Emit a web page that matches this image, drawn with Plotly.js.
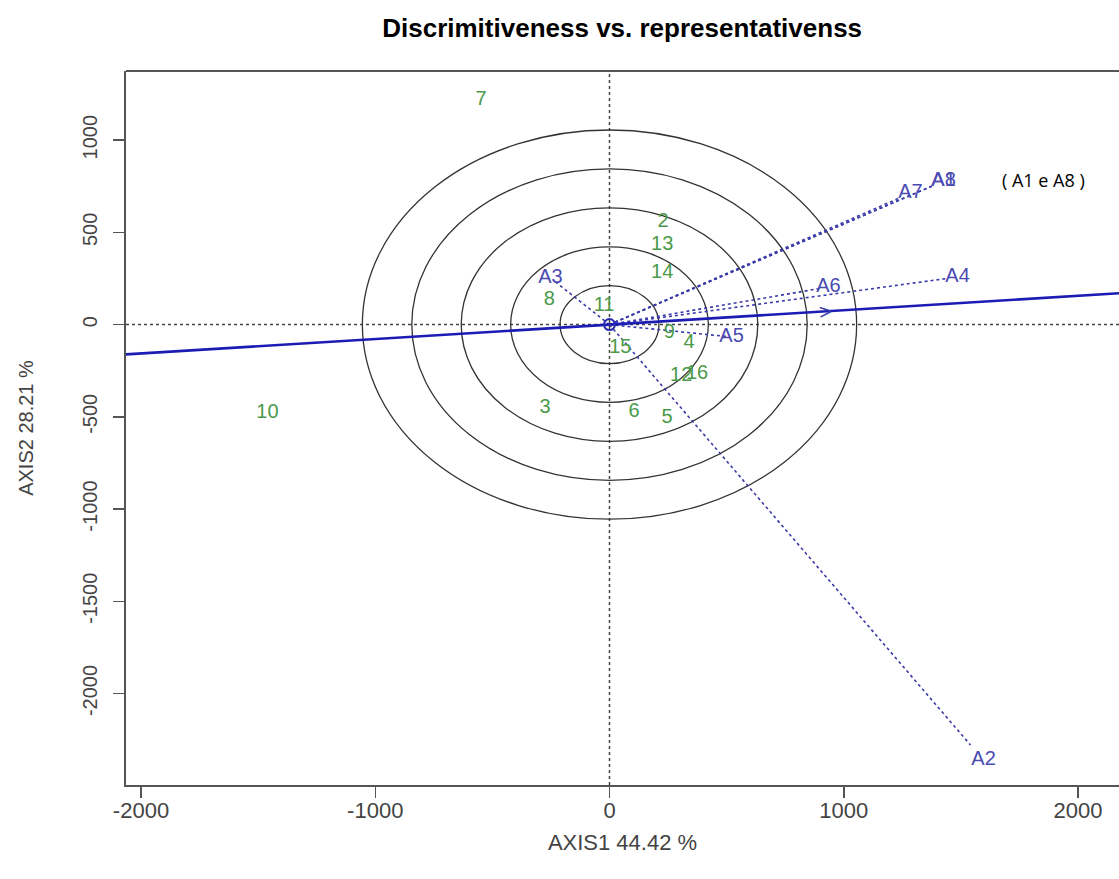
<!DOCTYPE html>
<html>
<head>
<meta charset="utf-8">
<script src="https://cdn.plot.ly/plotly-3.0.1.min.js"></script>
<style>html,body{margin:0;padding:0;background:#fff;}#chart{width:1119px;height:879px;}</style>
</head>
<body>
<div id="chart"></div>
<script>
// Genotype scores (labels, AXIS1, AXIS2)
const genoLabels = ["7","2","13","14","8","11","9","4","15","12","16","3","6","5","10"];
const genoX = [-548, 229, 225, 225, -257, -23, 255, 340, 46, 306, 374, -275, 105, 246, -1460];
const genoY = [1217, 556, 432, 280, 134, 101, -45, -99, -126, -278, -267, -451, -473, -505, -478];

// Environment scores
const envLabels = ["A1","A8","A7","A4","A6","A5","A3","A2"];
const envX = [1426, 1426, 1285, 1486, 935, 521, -252, 1597];
const envY = [778, 778, 713, 258, 204, -67, 253, -2362];

// Average environment coordinate (arrow of the AEA)
const aeaPoint = [922, 72];

// Concentric circle radii
const circleRadii = [211, 422, 633, 844, 1055];

// Axis ticks
const xTicks = [-2000, -1000, 0, 1000, 2000];
const yTicks = [-2000, -1500, -1000, -500, 0, 500, 1000];

const xRange = [-2064, 2175];
const yRange = [-2496, 1375];

const font = "Liberation Sans, Arial, sans-serif";
const vecShrink = 0.965;

// environment vectors
const vx = [], vy = [];
envX.forEach((x, i) => { vx.push(0, x * vecShrink, null); vy.push(0, envY[i] * vecShrink, null); });

// AEA line through origin
const slope = aeaPoint[1] / aeaPoint[0];
const aeaX = [xRange[0] - 200, xRange[1] + 200];
const aeaY = aeaX.map(x => x * slope);

const traces = [
  {x: vx, y: vy, mode: "lines", line: {color: "#3a3aa8", width: 1.6, dash: "dot"}, hoverinfo: "skip", showlegend: false},
  {x: aeaX, y: aeaY, mode: "lines", line: {color: "#1c1cb4", width: 2.6}, hoverinfo: "skip", showlegend: false},
  {x: [0], y: [0], mode: "markers", marker: {symbol: "circle-open-dot", size: 11, color: "#2a2ab0", line: {width: 2}}, hoverinfo: "skip", showlegend: false},
  {x: genoX, y: genoY, mode: "text", text: genoLabels, textposition: "middle center",
   textfont: {family: font, size: 20, color: "#4a9a4a"}, hoverinfo: "text", showlegend: false},
  {x: envX, y: envY, mode: "text", text: envLabels, textposition: "middle center",
   textfont: {family: font, size: 20, color: "#4a4ab2"}, hoverinfo: "text", showlegend: false}
];

const shapes = circleRadii.map(r => ({
  type: "circle", xref: "x", yref: "y", x0: -r, x1: r, y0: -r, y1: r,
  line: {color: "#333", width: 1.3}, layer: "below"
}));
shapes.push({type: "line", xref: "paper", yref: "y", x0: 0, x1: 1, y0: 0, y1: 0, line: {color: "#444", width: 1.5, dash: "dot"}, layer: "below"});
shapes.push({type: "line", xref: "x", yref: "paper", x0: 0, x1: 0, y0: 0, y1: 1, line: {color: "#444", width: 1.5, dash: "dot"}, layer: "below"});
shapes.push({type: "line", xref: "paper", yref: "paper", x0: 0, x1: 1, y0: 1, y1: 1, line: {color: "#555", width: 2}});

const layout = {
  width: 1119, height: 879,
  margin: {l: 126, r: 0, t: 71, b: 94},
  paper_bgcolor: "#fff", plot_bgcolor: "#fff",
  showlegend: false,
  title: {text: "<b>Discrimitiveness vs. representativenss</b>", font: {family: font, size: 26, color: "#000"},
          x: 0.556, xanchor: "center", y: 0.968, yanchor: "middle", yref: "container"},
  xaxis: {range: xRange, tickvals: xTicks, ticktext: xTicks.map(String), showgrid: false, zeroline: false,
          showline: true, linecolor: "#555", linewidth: 2, mirror: false,
          ticks: "outside", ticklen: 11, tickcolor: "#555", tickwidth: 1.5, ticklabelstandoff: -6,
          tickfont: {family: font, size: 22, color: "#444"},
          title: {text: "AXIS1 44.42 %", font: {family: font, size: 22, color: "#444"}, standoff: 12}},
  yaxis: {range: yRange, tickvals: yTicks, ticktext: yTicks.map(String), showgrid: false, zeroline: false,
          showline: true, linecolor: "#555", linewidth: 2, mirror: false,
          ticks: "outside", ticklen: 11, tickcolor: "#555", tickwidth: 1.5, tickangle: -90, ticklabelstandoff: 8,
          tickfont: {family: font, size: 20, color: "#444"},
          title: {text: "AXIS2 28.21 %", font: {family: font, size: 20, color: "#444"}, standoff: 40}},
  shapes: shapes,
  annotations: [
    {x: aeaPoint[0], y: aeaPoint[1], xref: "x", yref: "y", text: ">", showarrow: false,
     font: {family: font, size: 22, color: "#3a3aa8"}, textangle: -4, xanchor: "center", yanchor: "middle"},
    {x: 0, y: 0, xref: "paper", yref: "paper", text: "( A1 e A8 )", showarrow: false,
     font: {family: "Open Sans, sans-serif", size: 18, color: "#000"}, xanchor: "center", yanchor: "middle"}
  ]
};
// place the note in pixel terms converted to paper fractions
layout.annotations[1].x = (1043 - 126) / (1119 - 126);
layout.annotations[1].y = (879 - 94 - 180) / (879 - 71 - 94);

Plotly.newPlot("chart", traces, layout, {displayModeBar: false, staticPlot: true});
</script>
</body>
</html>
